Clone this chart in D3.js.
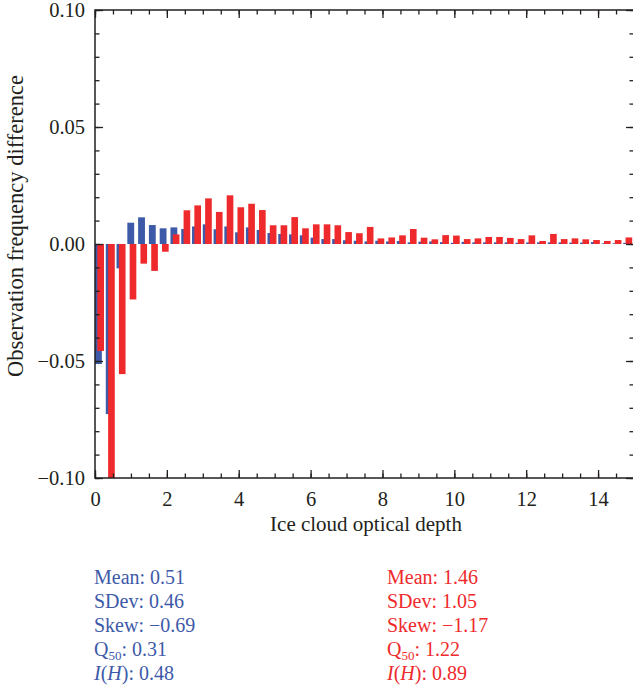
<!DOCTYPE html>
<meta charset="utf-8">
<script src="https://d3js.org/d3.v7.min.js"></script>
<style>
body { margin: 0; background: #fff; }
text { font-family: "Liberation Serif", "DejaVu Serif", serif; fill: #231f20; }
</style>
<div id="chart"></div>
<script>

// histogram bins of width 0.3 along optical depth
const binWidth = 0.3;
const blueValues = [
  -0.0513, -0.0727, -0.0104, 0.0091, 0.0114, 0.0081, 0.0067, 0.0071, 0.0064, 0.0075,
  0.0084, 0.0063, 0.0075, 0.0050, 0.0071, 0.0060, 0.0047, 0.0043, 0.0041, 0.0037,
  0.0027, 0.0021, 0.0021, 0.0016, 0.0014, 0.0011, 0.0014, 0.0011, 0.0013, 0.0007,
  0.0010, 0.0011, 0.0008, 0.0005, 0.0009, 0.0007, 0.0007, 0.0007, 0.0007, 0.0005,
  0.0007, 0.0007, 0.0007, 0.0007, 0.0006, 0.0006, 0.0008, 0.0003, 0.0003, 0.0005
];
const redValues = [
  -0.0457, -0.1000, -0.0556, -0.0237, -0.0084, -0.0115, -0.0033, 0.0041, 0.0144, 0.0165,
  0.0195, 0.0137, 0.0208, 0.0157, 0.0172, 0.0145, 0.0080, 0.0080, 0.0115, 0.0067,
  0.0084, 0.0084, 0.0080, 0.0051, 0.0046, 0.0073, 0.0024, 0.0028, 0.0037, 0.0064,
  0.0027, 0.0020, 0.0038, 0.0036, 0.0021, 0.0024, 0.0030, 0.0030, 0.0026, 0.0021,
  0.0037, 0.0013, 0.0043, 0.0021, 0.0024, 0.0020, 0.0017, 0.0013, 0.0017, 0.0028
];

const xTicks = [0, 2, 4, 6, 8, 10, 12, 14];
const yTicks = [-0.10, -0.05, 0.00, 0.05, 0.10];

const statNames = ["Mean", "SDev", "Skew", "Q50", "I(H)"];
const blueStats = ["0.51", "0.46", "\u22120.69", "0.31", "0.48"];
const redStats = ["1.46", "1.05", "\u22121.17", "1.22", "0.89"];

const blue = "#3d5aa8", red = "#ee2a2c", ink = "#231f20";

const W = 633, H = 688;
const plotL = 95, plotR = 634, plotT = 10, plotB = 478;

const svg = d3.select("#chart").append("svg")
  .attr("width", W).attr("height", H);

const x = d3.scaleLinear().domain([0, 15]).range([plotL, plotR]);
const y = d3.scaleLinear().domain([-0.1, 0.1]).range([plotB, plotT]);

svg.append("clipPath").attr("id", "plot")
  .append("rect").attr("x", plotL).attr("y", plotT)
  .attr("width", plotR - plotL).attr("height", plotB - plotT);

const bars = svg.append("g").attr("clip-path", "url(#plot)");

bars.selectAll(".blue").data(blueValues).join("rect")
  .attr("class", "blue")
  .attr("x", (d, i) => x(i * binWidth))
  .attr("width", x(0.19) - x(0))
  .attr("y", d => y(Math.max(0, d)))
  .attr("height", d => Math.abs(y(d) - y(0)))
  .attr("fill", blue);

bars.selectAll(".red").data(redValues).join("rect")
  .attr("class", "red")
  .attr("x", (d, i) => x(i * binWidth + 0.065))
  .attr("width", x(0.185) - x(0))
  .attr("y", d => y(Math.max(0, d)))
  .attr("height", d => Math.abs(y(d) - y(0)))
  .attr("fill", red);

// axes with inward ticks on all four sides
const fmt = d3.format(".2f");
const xMinor = d3.range(0, 15.01, 0.5);
const yMinor = d3.range(-10, 10.5, 1).map(v => v / 100);

function styleAxis(g) {
  g.select(".domain").remove();
  g.selectAll("line").attr("stroke", ink).attr("stroke-width", 1.3);
  g.selectAll("text").attr("font-size", 20.5).attr("fill", ink);
}

svg.append("g").attr("transform", `translate(0,${plotB})`)
  .call(d3.axisBottom(x).tickValues(xMinor).tickSize(-4.5).tickFormat(""))
  .call(styleAxis);
svg.append("g").attr("transform", `translate(0,${plotB})`)
  .call(d3.axisBottom(x).tickValues(xTicks).tickSize(-8).tickPadding(13).tickFormat(d3.format("d")))
  .call(styleAxis);
svg.append("g").attr("transform", `translate(0,${plotT})`)
  .call(d3.axisTop(x).tickValues(xMinor).tickSize(-4.5).tickFormat(""))
  .call(styleAxis);
svg.append("g").attr("transform", `translate(0,${plotT})`)
  .call(d3.axisTop(x).tickValues(xTicks).tickSize(-8).tickFormat(""))
  .call(styleAxis);

svg.append("g").attr("transform", `translate(${plotL},0)`)
  .call(d3.axisLeft(y).tickValues(yMinor).tickSize(-4.5).tickFormat(""))
  .call(styleAxis);
svg.append("g").attr("transform", `translate(${plotL},0)`)
  .call(d3.axisLeft(y).tickValues(yTicks).tickSize(-8).tickPadding(10).tickFormat(fmt))
  .call(styleAxis);
svg.append("g").attr("transform", `translate(${plotR},0)`)
  .call(d3.axisRight(y).tickValues(yMinor).tickSize(-4.5).tickFormat(""))
  .call(styleAxis);
svg.append("g").attr("transform", `translate(${plotR},0)`)
  .call(d3.axisRight(y).tickValues(yTicks).tickSize(-8).tickFormat(""))
  .call(styleAxis);

svg.append("rect")
  .attr("x", plotL).attr("y", plotT)
  .attr("width", plotR - plotL).attr("height", plotB - plotT)
  .attr("fill", "none").attr("stroke", ink).attr("stroke-width", 1.5);

svg.append("text")
  .attr("x", 366).attr("y", 531)
  .attr("text-anchor", "middle").attr("font-size", 21)
  .text("Ice cloud optical depth");

svg.append("text")
  .attr("transform", "translate(23,226) rotate(-90)")
  .attr("text-anchor", "middle").attr("font-size", 22.5)
  .text("Observation frequency difference");

// summary statistics below the chart
function statBlock(x0, values, color) {
  const g = svg.append("g");
  values.forEach((v, i) => {
    const t = g.append("text")
      .attr("x", x0).attr("y", 584 + i * 24)
      .attr("font-size", 20).style("fill", color);
    const name = statNames[i];
    if (name === "Q50") {
      t.append("tspan").text("Q");
      t.append("tspan").attr("font-size", 13).attr("dy", 4).text("50");
      t.append("tspan").attr("dy", -4).text(": " + v);
    } else if (name === "I(H)") {
      t.append("tspan").attr("font-style", "italic").text("I");
      t.append("tspan").text("(");
      t.append("tspan").attr("font-style", "italic").text("H");
      t.append("tspan").text("): " + v);
    } else {
      t.text(name + ": " + v);
    }
  });
}
statBlock(94, blueStats, blue);
statBlock(387, redStats, red);

</script>
